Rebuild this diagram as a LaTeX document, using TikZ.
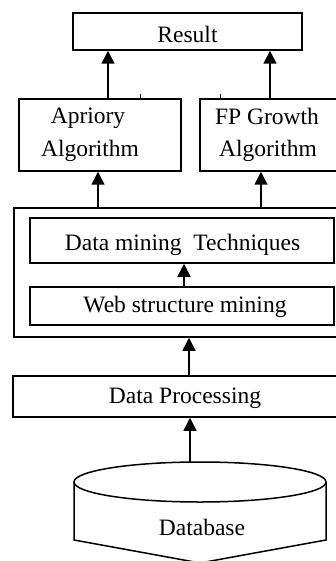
\documentclass[tikz,border=0pt]{standalone}
\usepackage{fontspec}
\setmainfont{Liberation Serif}
\usetikzlibrary{arrows.meta,calc}
\begin{document}
\begin{tikzpicture}[x=1pt,y=-1pt,
  box/.style={draw,line width=1.5pt,rectangle,inner sep=0pt},
  lbl/.style={anchor=base,inner sep=0pt,font=\fontsize{23.5}{28}\selectfont},
  arr/.style={line width=1.5pt,-{Triangle[length=13pt,width=13pt]}}]
\useasboundingbox (0,0) rectangle (336,561);

% boxes (corner to corner)
\node[box,minimum width=229pt,minimum height=37pt] (res) at (187.5,31.5) {};
\node[box,minimum width=162pt,minimum height=72pt] (apr) at (100,135) {};
\node[box,minimum width=138pt,minimum height=72pt] (fpg) at (269,135) {};
\node[box,minimum width=338pt,minimum height=129pt] (outer) at (183,272.5) {};
\node[box,minimum width=304pt,minimum height=45pt] (dmt) at (182,240.5) {};
\node[box,minimum width=304pt,minimum height=38pt] (wsm) at (182,306) {};
\node[box,minimum width=344pt,minimum height=41pt] (dp) at (185,396.5) {};

% labels
\node[lbl] at (187.5,43) {Result};
\node[lbl] at (88,124) {Apriory};
\node[lbl] at (90,157) {Algorithm};
\node[lbl] at (267,125) {FP Growth};
\node[lbl] at (268,157) {Algorithm};
\node[lbl] at (182.5,250) {Data mining\ \ Techniques};
\node[lbl] at (185,312) {Web structure mining};
\node[lbl] at (185,403) {Data Processing};
\node[lbl] at (202,535) {Database};

% database cylinder
\coordinate (dbc) at (200,482);
\coordinate (dbl) at (74,482);
\coordinate (dbr) at (326,482);
\coordinate (dbtop) at (190,462);
\draw[line width=1.5pt] (dbc) ellipse [x radius=126, y radius=20];
\draw[line width=1.5pt] (dbl) -- ++(0,58) .. controls (140,552) .. (200,563)
  .. controls (260,552) .. (326,540) -- (dbr);

% small ticks on top edges
\draw[line width=1pt] ([xshift=40pt]apr.north) -- ++(0,-4);
\draw[line width=1pt] ([xshift=-49pt]fpg.north) -- ++(0,-4);

% connectors
\draw[arr] ([xshift=8pt]apr.north) -- ([xshift=8pt]apr.north |- res.south);
\draw[arr] ([xshift=1pt]fpg.north) -- ([xshift=1pt]fpg.north |- res.south);
\draw[arr] (98,0 |- outer.north) -- (98,0 |- apr.south);
\draw[arr] (261,0 |- outer.north) -- (261,0 |- fpg.south);
\draw[arr] ([xshift=2pt]wsm.north) -- ([xshift=2pt]dmt.south);
\draw[arr] ([xshift=4pt]dp.north) -- ([xshift=4pt]dp.north |- outer.south);
\draw[arr] (dbtop) -- (dbtop |- dp.south);
\end{tikzpicture}
\end{document}
